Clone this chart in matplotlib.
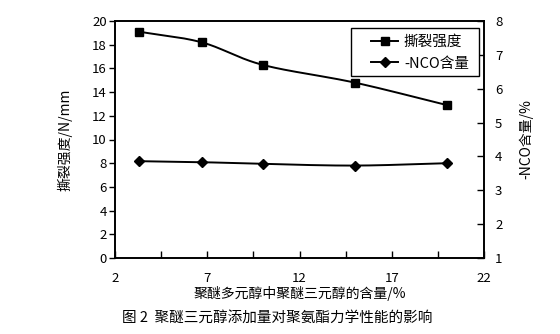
import numpy as np
import matplotlib
matplotlib.use("Agg")
import matplotlib.pyplot as plt
from matplotlib.ticker import MultipleLocator, FixedLocator
from matplotlib.patches import Rectangle

plt.rcParams['font.family'] = ['Noto Sans CJK SC', 'DejaVu Sans']

# 聚醚多元醇中聚醚三元醇的含量 /%
triol_content = [3.3, 6.7, 10.0, 15.0, 20.0]
# 撕裂强度 N/mm
tear_strength = [19.1, 18.2, 16.3, 14.8, 12.9]
# -NCO 含量 /%
nco_content = [3.86, 3.83, 3.78, 3.73, 3.80]

x_ticks = [2, 7, 12, 17, 22]
x_minor_ticks = [4.5, 9.5, 14.5, 19.5]


def smooth(x, y, n=40, tension=0.5):
    """Cardinal-spline curve through the points, like a smoothed line in a spreadsheet chart."""
    x = np.asarray(x, float)
    y = np.asarray(y, float)
    px = np.concatenate([[2 * x[0] - x[1]], x, [2 * x[-1] - x[-2]]])
    py = np.concatenate([[2 * y[0] - y[1]], y, [2 * y[-1] - y[-2]]])
    xs, ys = [], []
    t = np.linspace(0, 1, n)
    for i in range(1, len(px) - 2):
        m0x = tension * (px[i + 1] - px[i - 1])
        m1x = tension * (px[i + 2] - px[i])
        m0y = tension * (py[i + 1] - py[i - 1])
        m1y = tension * (py[i + 2] - py[i])
        h00 = 2 * t**3 - 3 * t**2 + 1
        h10 = t**3 - 2 * t**2 + t
        h01 = -2 * t**3 + 3 * t**2
        h11 = t**3 - t**2
        xs.append(h00 * px[i] + h10 * m0x + h01 * px[i + 1] + h11 * m1x)
        ys.append(h00 * py[i] + h10 * m0y + h01 * py[i + 1] + h11 * m1y)
    return np.concatenate(xs), np.concatenate(ys)


fig = plt.figure(figsize=(5.6, 3.34), dpi=100)
ax = fig.add_axes([115 / 560, 1 - 258 / 334, (484 - 115) / 560, (258 - 21) / 334])
ax2 = ax.twinx()

sx, sy = smooth(triol_content, tear_strength)
ax.plot(sx, sy, color='black', lw=1.4)
ax.plot(triol_content, tear_strength, ls='none', marker='s', ms=5.5,
        color='black')
h1, = ax.plot([], [], color='black', lw=1.4, marker='s', ms=5.5, label='撕裂强度')

nx, ny = smooth(triol_content, nco_content)
ax2.plot(nx, ny, color='black', lw=1.4)
ax2.plot(triol_content, nco_content, ls='none', marker='D', ms=5, color='black')
h2, = ax.plot([], [], color='black', lw=1.4, marker='D', ms=5, label='-NCO含量')

ax.set_xlim(2, 22)
ax.set_ylim(0, 20)
ax2.set_ylim(1, 8)

ax.xaxis.set_major_locator(FixedLocator(x_ticks))
ax.xaxis.set_minor_locator(FixedLocator(x_minor_ticks))
ax.yaxis.set_major_locator(MultipleLocator(2))
ax2.yaxis.set_major_locator(MultipleLocator(1))

for a in (ax, ax2):
    for s in a.spines.values():
        s.set_linewidth(1.2)
        s.set_color('black')

ax.tick_params(axis='x', which='both', direction='in', length=5, width=1,
               labelsize=9.5, pad=10, colors='black')
ax.tick_params(axis='x', which='minor', labelbottom=False)
ax.tick_params(axis='y', direction='out', length=4, width=1, labelsize=9.5, pad=2)
ax2.tick_params(axis='y', direction='in', length=5, width=1, labelsize=9.5, pad=8)

ax.set_xlabel('聚醚多元醇中聚醚三元醇的含量/%', fontsize=10, labelpad=1)
ax.set_ylabel('撕裂强度/N/mm', fontsize=10, labelpad=14)
ax2.set_ylabel('-NCO含量/%', fontsize=10, labelpad=12)

# legend box with wider side margins than top/bottom
box = Rectangle((0.6396, 0.768), 0.347, 0.2025, transform=ax2.transAxes,
                facecolor='white', edgecolor='black', lw=1.0, zorder=5)
ax2.add_patch(box)
leg = ax2.legend(handles=[h1, h2], loc='upper left',
                 bbox_to_anchor=(0.694, 0.94), borderaxespad=0, borderpad=0,
                 fontsize=10.5, frameon=False, handlelength=1.85,
                 handletextpad=0.4, labelspacing=0.5)
leg.set_zorder(6)

fig.text(0.495, 1 - 318 / 334, '图 2  聚醚三元醇添加量对聚氨酯力学性能的影响',
         ha='center', va='center', fontsize=10.5)

fig.savefig('out.png', dpi=100)
